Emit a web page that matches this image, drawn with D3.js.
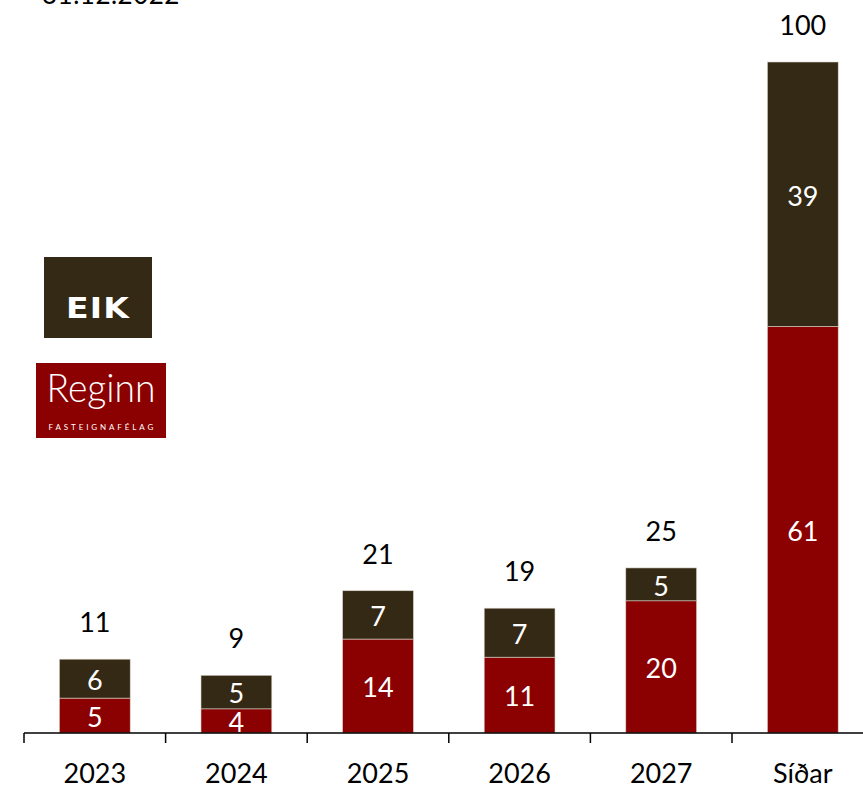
<!DOCTYPE html>
<html lang="is">
<head>
<meta charset="utf-8">
<title>Gjalddagar</title>
<script src="https://d3js.org/d3.v7.min.js"></script>
<style>
  body { margin: 0; background: #fff; }
  svg text { font-family: Lato, "Open Sans", sans-serif; }
</style>
</head>
<body>
<div id="chart"></div>
<script>
// data
const categories = ["2023", "2024", "2025", "2026", "2027", "Síðar"];
const reginn = [5.2, 3.6, 14.0, 11.3, 19.7, 60.6];
const eik = [5.8, 5.0, 7.2, 7.3, 4.9, 39.4];
const dateLabel = "31.12.2022";

const W = 863, H = 787;
const colReginn = "#8b0000", colEik = "#332914";

const svg = d3.select("#chart").append("svg")
  .attr("width", W).attr("height", H);

const x = d3.scaleBand()
  .domain(categories)
  .range([24, 24 + 6 * 141.6])
  .padding(0.5)
  .paddingOuter(0.25);

const y = d3.scaleLinear()
  .domain([0, 100])
  .range([733, 62]);

const rows = categories.map((c, i) => ({ cat: c, r: reginn[i], e: eik[i], t: reginn[i] + eik[i] }));

// title (cut off at top, as in the source)
svg.append("text")
  .attr("x", 42).attr("y", 4)
  .attr("font-size", 26)
  .attr("letter-spacing", 0.5)
  .text(dateLabel);

// bars
const g = svg.append("g");
g.selectAll(".reg").data(rows).join("rect")
  .attr("x", d => x(d.cat)).attr("width", x.bandwidth())
  .attr("y", d => y(d.r)).attr("height", d => y(0) - y(d.r))
  .attr("fill", colReginn)
  .attr("stroke", "#d9d2c6").attr("stroke-width", 0.6);

g.selectAll(".eik").data(rows).join("rect")
  .attr("x", d => x(d.cat)).attr("width", x.bandwidth())
  .attr("y", d => y(d.t)).attr("height", d => y(d.r) - y(d.t))
  .attr("fill", colEik)
  .attr("stroke", "#d9d2c6").attr("stroke-width", 0.6);

// value labels
const cx = d => x(d.cat) + x.bandwidth() / 2;
g.selectAll(".lr").data(rows).join("text")
  .attr("x", cx).attr("y", d => (y(d.r) + y(0)) / 2)
  .attr("dy", "0.42em").attr("text-anchor", "middle")
  .attr("fill", "#fff").attr("font-size", 27)
  .text(d => Math.round(d.r));

g.selectAll(".le").data(rows).join("text")
  .attr("x", cx).attr("y", d => (y(d.t) + y(d.r)) / 2)
  .attr("dy", "0.42em").attr("text-anchor", "middle")
  .attr("fill", "#fff").attr("font-size", 27)
  .text(d => Math.round(d.e));

g.selectAll(".lt").data(rows).join("text")
  .attr("x", cx).attr("y", d => y(d.t) - 27)
  .attr("text-anchor", "middle")
  .attr("fill", "#000").attr("font-size", 27)
  .text(d => Math.round(d.t));

// x axis: labels from d3 axis, ticks between categories
const ax = svg.append("g")
  .attr("transform", `translate(0,${y(0)})`)
  .call(d3.axisBottom(x).tickSize(0).tickPadding(31));
ax.select(".domain").remove();
ax.selectAll("text").attr("font-size", 27).attr("fill", "#000")
  .attr("font-family", "Lato, sans-serif");

svg.append("line")
  .attr("x1", x.range()[0]).attr("x2", W)
  .attr("y1", y(0)).attr("y2", y(0))
  .attr("stroke", "#000").attr("stroke-width", 1.5);

svg.selectAll(".tick-b").data(d3.range(categories.length))
  .join("line")
  .attr("x1", i => x.range()[0] + i * x.step())
  .attr("x2", i => x.range()[0] + i * x.step())
  .attr("y1", y(0)).attr("y2", y(0) + 10)
  .attr("stroke", "#000").attr("stroke-width", 1.5);

// logos
const eikLogo = svg.append("g");
eikLogo.append("rect").attr("x", 44).attr("y", 257).attr("width", 108).attr("height", 81).attr("fill", colEik);
eikLogo.append("text").attr("x", 98).attr("y", 318).attr("text-anchor", "middle")
  .attr("fill", "#fff").attr("font-size", 29).attr("font-weight", 900)
  .attr("letter-spacing", 1)
  .style("font-family", "'DejaVu Sans', sans-serif")
  .attr("textLength", 64).attr("lengthAdjust", "spacingAndGlyphs")
  .text("EIK");

const regLogo = svg.append("g");
regLogo.append("rect").attr("x", 36).attr("y", 363).attr("width", 130).attr("height", 75).attr("fill", colReginn);
regLogo.append("text").attr("x", 101).attr("y", 402).attr("text-anchor", "middle")
  .attr("fill", "#fff").attr("font-size", 39).attr("font-weight", 300)
  .attr("textLength", 109).attr("lengthAdjust", "spacingAndGlyphs")
  .text("Reginn");
regLogo.append("text").attr("x", 102).attr("y", 430).attr("text-anchor", "middle")
  .attr("fill", "#fff").attr("font-size", 8).attr("letter-spacing", 2.2)
  .attr("textLength", 107)
  .text("FASTEIGNAFÉLAG");
</script>
</body>
</html>
